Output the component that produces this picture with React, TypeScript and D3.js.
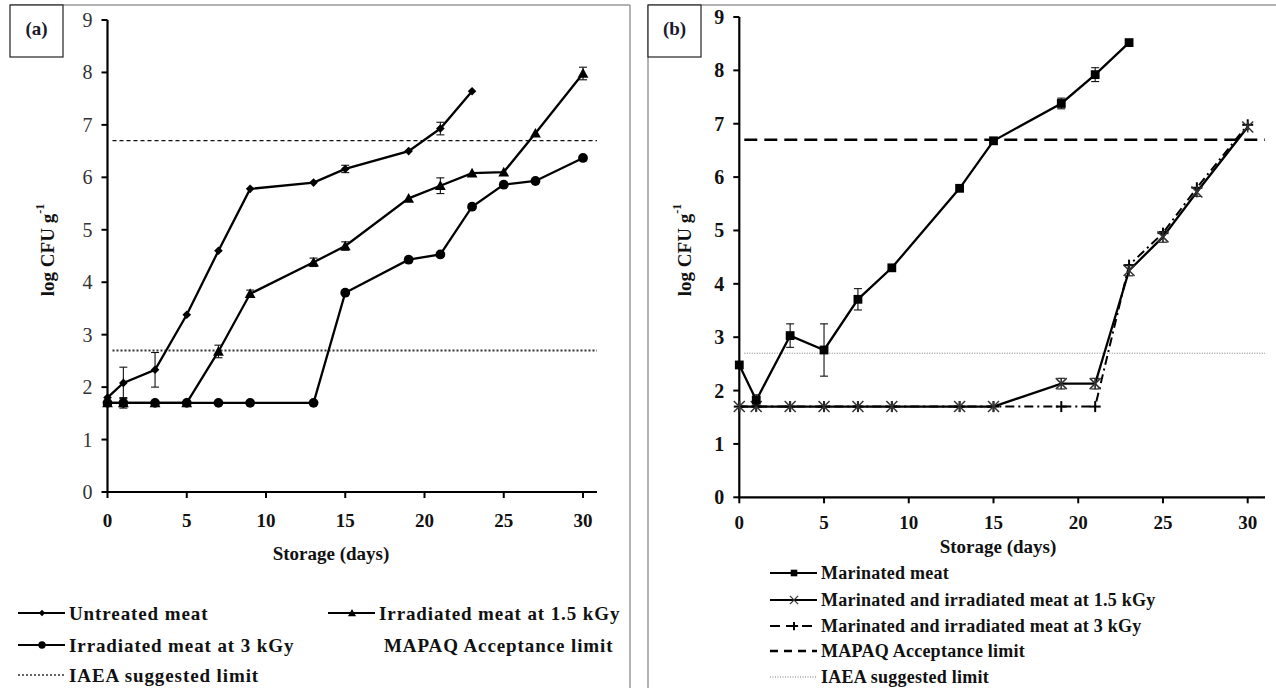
import React from 'react';
import * as d3 from 'd3';

// ---------- DATA ----------
const days = [0, 1, 3, 5, 7, 9, 13, 15, 19, 21, 23, 25, 27, 30];
const daysUntreated = [0, 1, 3, 5, 7, 9, 13, 15, 19, 21, 23];

// Panel (a)
const untreated = [1.8, 2.08, 2.33, 3.38, 4.6, 5.78, 5.9, 6.16, 6.5, 6.93, 7.64];
const untreatedErr = [0.04, 0.3, 0.33, 0.05, 0.05, 0.04, 0.04, 0.07, 0.05, 0.12, 0.04];
const irr15 = [1.7, 1.7, 1.7, 1.7, 2.68, 3.78, 4.38, 4.69, 5.6, 5.84, 6.08, 6.1, 6.84, 7.98];
const irr15Err = [0.03, 0.1, 0.03, 0.03, 0.12, 0.07, 0.08, 0.08, 0.05, 0.15, 0.06, 0.05, 0.05, 0.12];
const irr3 = [1.7, 1.7, 1.7, 1.7, 1.7, 1.7, 1.7, 3.8, 4.43, 4.53, 5.44, 5.86, 5.93, 6.37];

// Panel (b)
const marinated = [2.48, 1.82, 3.03, 2.76, 3.71, 4.3, 5.79, 6.68, 7.38, 7.92, 8.52];
const marinatedErr = [0.04, 0.1, 0.22, 0.49, 0.2, 0.04, 0.04, 0.04, 0.1, 0.13, 0.03];
const marIrr15 = [1.7, 1.7, 1.7, 1.7, 1.7, 1.7, 1.7, 1.7, 2.13, 2.13, 4.25, 4.88, 5.72, 6.94];
const marIrr15Err = [0, 0, 0, 0, 0, 0, 0, 0, 0.1, 0.1, 0.1, 0.1, 0.08, 0.05];
const marIrr3 = [1.7, 1.7, 1.7, 1.7, 1.7, 1.7, 1.7, 1.7, 1.7, 1.7, 4.35, 4.95, 5.8, 6.98];

const mapaqLimit = 6.7;
const iaeaLimit = 2.7;

const xTicks = [0, 5, 10, 15, 20, 25, 30];
const yTicks = [0, 1, 2, 3, 4, 5, 6, 7, 8, 9];

const legendA = [
  'Untreated meat',
  'Irradiated meat at 1.5 kGy',
  'Irradiated meat at 3 kGy',
  'MAPAQ Acceptance limit',
  'IAEA suggested limit',
];
const legendB = [
  'Marinated meat',
  'Marinated and irradiated meat at 1.5 kGy',
  'Marinated and irradiated meat at 3 kGy',
  'MAPAQ Acceptance limit',
  'IAEA suggested limit',
];

const FONT = "'Liberation Serif', 'Times New Roman', serif";

type Shape = 'diamond' | 'triangle' | 'circle' | 'square' | 'star' | 'plus' | 'x';

function Marker({ shape, x, y, s = 1 }: { shape: Shape; x: number; y: number; s?: number }) {
  if (shape === 'diamond') {
    const r = 4.3 * s;
    return <path d={`M${x},${y - r}L${x + r},${y}L${x},${y + r}L${x - r},${y}Z`} fill="#000" />;
  }
  if (shape === 'triangle') {
    const r = 5.4 * s;
    return <path d={`M${x},${y - r}L${x + r},${y + r * 0.8}L${x - r},${y + r * 0.8}Z`} fill="#000" />;
  }
  if (shape === 'circle') return <circle cx={x} cy={y} r={4.9 * s} fill="#000" />;
  if (shape === 'square') {
    const r = 4.4 * s;
    return <rect x={x - r} y={y - r} width={2 * r} height={2 * r} fill="#000" />;
  }
  if (shape === 'star') {
    const r = 5.5 * s;
    return (
      <g stroke="#333" strokeWidth={1.5}>
        <line x1={x - r} y1={y - r} x2={x + r} y2={y + r} />
        <line x1={x - r} y1={y + r} x2={x + r} y2={y - r} />
        <line x1={x} y1={y - r} x2={x} y2={y + r} />
      </g>
    );
  }
  if (shape === 'x') {
    const r = 5.5 * s;
    return (
      <g stroke="#333" strokeWidth={1.2}>
        <line x1={x - r} y1={y - r} x2={x + r} y2={y + r} />
        <line x1={x - r} y1={y + r} x2={x + r} y2={y - r} />
      </g>
    );
  }
  const r = 5.5 * s;
  return (
    <g stroke="#000" strokeWidth={2}>
      <line x1={x - r} y1={y} x2={x + r} y2={y} />
      <line x1={x} y1={y - r} x2={x} y2={y + r} />
    </g>
  );
}

interface Series {
  xs: number[];
  ys: number[];
  err?: number[];
  shape: Shape;
  dash?: string;
  width?: number;
}

interface Limit {
  value: number;
  dash: string;
  width: number;
  color: string;
}

function Panel({
  label, boxX, x0, x1, xEnd, y0, y1, series, limits, boldY, ylabX, xTitleX, xTitleY, xTickY,
}: {
  label: string; boxX: number; x0: number; x1: number; xEnd: number; y0: number; y1: number;
  series: Series[]; limits: Limit[]; boldY: boolean; ylabX: number; xTitleX: number; xTitleY: number; xTickY: number;
}) {
  const x = d3.scaleLinear().domain([0, 30]).range([x0, x1]);
  const y = d3.scaleLinear().domain([0, 9]).range([y0, y1]);
  const line = d3.line<[number, number]>().x((d) => x(d[0])).y((d) => y(d[1]));
  return (
    <g>
      <rect x={boxX} y={5} width={53} height={52} fill="#fff" stroke="#222" strokeWidth={1.2} />
      <text x={boxX + 26.5} y={28} textAnchor="middle" dominantBaseline="central" fontFamily={FONT}
        fontWeight="bold" fontSize={19} fill="#1a1a2e">{label}</text>
      {/* limits */}
      {limits.map((l, i) => (
        <line key={i} x1={x0 + 5} x2={xEnd} y1={y(l.value)} y2={y(l.value)} stroke={l.color}
          strokeWidth={l.width} strokeDasharray={l.dash} />
      ))}
      {/* axes */}
      <line x1={x0} x2={x0} y1={y(9)} y2={y0 + 1} stroke="#000" strokeWidth={2.2} />
      <line x1={x0 - 1} x2={xEnd} y1={y0} y2={y0} stroke="#000" strokeWidth={2.2} />
      {yTicks.map((t) => (
        <g key={t}>
          <line x1={x0 - 6} x2={x0} y1={y(t)} y2={y(t)} stroke="#000" strokeWidth={2} />
          <text x={x0 - 15} y={y(t)} textAnchor="end" dominantBaseline="central" fontFamily={FONT}
            fontSize={20} fontWeight={boldY ? 'bold' : 'normal'} fill={boldY ? '#111' : '#333'}>{t}</text>
        </g>
      ))}
      {xTicks.map((t) => (
        <g key={t}>
          <line x1={x(t)} x2={x(t)} y1={y0} y2={y0 + 6} stroke="#000" strokeWidth={2} />
          <text x={x(t)} y={xTickY} textAnchor="middle" dominantBaseline="central" fontFamily={FONT}
            fontSize={19} fontWeight="bold" fill="#111">{t}</text>
        </g>
      ))}
      <text x={xTitleX} y={xTitleY} textAnchor="middle" dominantBaseline="central" fontFamily={FONT}
        fontSize={19} fontWeight="bold" fill="#111">Storage (days)</text>
      <text transform={`translate(${ylabX},250) rotate(-90)`} textAnchor="middle" dominantBaseline="central"
        fontFamily={FONT} fontSize={19} fontWeight="bold" fill="#111">
        log CFU g<tspan dy={-7} fontSize={12}>-1</tspan>
      </text>
      {/* series */}
      {series.map((s, i) => {
        const pts: [number, number][] = s.xs.map((d, j) => [d, s.ys[j]]);
        return (
          <g key={i}>
            <path d={line(pts) || ''} fill="none" stroke="#000" strokeWidth={s.width ?? 2.3}
              strokeDasharray={s.dash} />
            {s.err && pts.map((p, j) => s.err![j] > 0.06 ? (
              <g key={'e' + j} stroke="#111" strokeWidth={1.1}>
                <line x1={x(p[0])} x2={x(p[0])} y1={y(p[1] - s.err![j])} y2={y(p[1] + s.err![j])} />
                <line x1={x(p[0]) - 4} x2={x(p[0]) + 4} y1={y(p[1] + s.err![j])} y2={y(p[1] + s.err![j])} />
                <line x1={x(p[0]) - 4} x2={x(p[0]) + 4} y1={y(p[1] - s.err![j])} y2={y(p[1] - s.err![j])} />
              </g>
            ) : null)}
            {pts.map((p, j) => <Marker key={j} shape={s.shape} x={x(p[0])} y={y(p[1])} />)}
          </g>
        );
      })}
    </g>
  );
}

function LegendItem({ x, y, text, shape, dash, color = '#000', width = 2, fontSize = 19, ls = 0.9 }:
  { x: number; y: number; text: string; shape?: Shape; dash?: string; color?: string; width?: number; fontSize?: number; ls?: number }) {
  return (
    <g>
      {width > 0 && <line x1={x} x2={x + 47} y1={y} y2={y} stroke={color} strokeWidth={width} strokeDasharray={dash} />}
      {shape && <Marker shape={shape} x={x + 24} y={y} s={0.75} />}
      <text x={x + 51} y={y} dominantBaseline="central" fontFamily={FONT} fontSize={fontSize}
        fontWeight="bold" fill="#111" letterSpacing={ls}>{text}</text>
    </g>
  );
}

export default function App() {
  const seriesA: Series[] = [
    { xs: daysUntreated, ys: untreated, err: untreatedErr, shape: 'diamond' },
    { xs: days, ys: irr15, err: irr15Err, shape: 'triangle' },
    { xs: days, ys: irr3, shape: 'circle' },
  ];
  const limitsA: Limit[] = [
    { value: mapaqLimit, dash: '4,3', width: 1.2, color: '#111' },
    { value: iaeaLimit, dash: '2,2', width: 2, color: '#333' },
  ];
  const seriesB: Series[] = [
    { xs: days, ys: marIrr3, shape: 'plus', dash: '9,4,2,4', width: 2 },
    { xs: days, ys: marIrr15, err: marIrr15Err, shape: 'star' },
    { xs: daysUntreated, ys: marinated, err: marinatedErr, shape: 'square' },
  ];
  const limitsB: Limit[] = [
    { value: mapaqLimit, dash: '13,7', width: 2.6, color: '#000' },
    { value: iaeaLimit, dash: '1,1.5', width: 1, color: '#777' },
  ];
  return (
    <svg width={1276} height={688} style={{ position: 'fixed', left: 0, top: 0, display: 'block', background: '#fff' }}>
      <rect width={1276} height={688} fill="#fff" />
      {/* panel frames */}
      <line x1={10} x2={630} y1={5} y2={5} stroke="#999" strokeWidth={1.5} />
      <line x1={630} x2={630} y1={5} y2={688} stroke="#999" strokeWidth={1.5} />
      <line x1={648} x2={1276} y1={5} y2={5} stroke="#999" strokeWidth={1.5} />
      <line x1={648} x2={648} y1={5} y2={688} stroke="#999" strokeWidth={1.5} />

      <Panel label="(a)" boxX={10} x0={107.5} x1={583} xEnd={597} y0={492} y1={20}
        series={seriesA} limits={limitsA} boldY={false} ylabX={47} xTitleX={331} xTitleY={553} xTickY={520} />
      <Panel label="(b)" boxX={648} x0={739.3} x1={1247.7} xEnd={1265} y0={497.3} y1={17}
        series={seriesB} limits={limitsB} boldY={true} ylabX={684} xTitleX={998} xTitleY={546} xTickY={522} />

      {/* legend a */}
      <LegendItem x={18} y={613} text={legendA[0]} shape="diamond" />
      <LegendItem x={328} y={613} text={legendA[1]} shape="triangle" />
      <LegendItem x={18} y={645} text={legendA[2]} shape="circle" />
      <LegendItem x={333} y={645} text={legendA[3]} width={0} />
      <LegendItem x={18} y={675} text={legendA[4]} dash="2,2" width={1.5} color="#333" />

      {/* legend b */}
      <LegendItem x={770} y={573} text={legendB[0]} shape="square" fontSize={18} ls={0.25} />
      <LegendItem x={770} y={600} text={legendB[1]} shape="x" fontSize={18} ls={0.25} />
      <LegendItem x={770} y={626} text={legendB[2]} shape="plus" dash="10,6" fontSize={18} ls={0.25} />
      <LegendItem x={770} y={651} text={legendB[3]} dash="8,6" width={2.6} fontSize={18} ls={0.25} />
      <LegendItem x={770} y={677} text={legendB[4]} dash="1,1.5" width={1} color="#777" fontSize={18} ls={0.25} />
    </svg>
  );
}
